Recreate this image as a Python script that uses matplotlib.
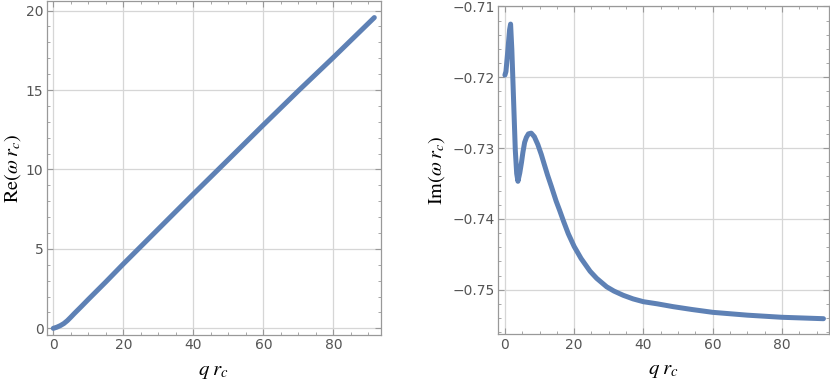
import numpy as np
import matplotlib
matplotlib.use('Agg')
import matplotlib.pyplot as plt
from matplotlib.ticker import MultipleLocator, FuncFormatter

plt.rcParams['mathtext.fontset'] = 'stix'

# Re(omega r_c) vs q r_c
qRe = [0, 1, 2, 3, 4, 5, 6, 8, 10, 15, 20, 30, 40, 50, 60, 70, 80, 91.7]
re = [0, 0.07, 0.17, 0.30, 0.48, 0.70, 0.93, 1.37, 1.82, 2.92, 4.05, 6.25,
      8.45, 10.62, 12.8, 14.95, 17.05, 19.56]

# Im(omega r_c) vs q r_c
qIm = [0, 0.3, 0.87, 1.35, 1.64, 2.0, 2.5, 3.0, 3.4, 3.76, 4.3, 4.8, 5.2,
       5.7, 6.2, 6.8, 7.6, 8.5, 9.5, 10.5, 11.3, 12.3, 13.4, 14.8, 15.8,
       16.9, 18.3, 20, 22, 24.6, 26.5, 29.4, 31.5, 34.2, 37, 40, 44, 48.6,
       54, 60, 70, 80, 92]
im = [-0.7197, -0.7192, -0.7161, -0.7133, -0.7125, -0.7161, -0.7232,
      -0.7303, -0.7336, -0.7347, -0.7335, -0.7320, -0.7306, -0.7292,
      -0.7285, -0.7280, -0.7279, -0.7284, -0.7295, -0.7309, -0.7322,
      -0.7338, -0.7354, -0.7375, -0.7388, -0.7403, -0.7421, -0.7439,
      -0.7456, -0.7474, -0.7484, -0.7496, -0.7502, -0.7508, -0.7513,
      -0.7517, -0.7520, -0.7524, -0.7528, -0.7532, -0.7536, -0.7539,
      -0.7541]

lineColor = '#5E81B5'
frameColor = '#999999'
gridColor = '#d6d6d6'
textColor = '#555555'


def styleAx(ax, xminor, yminor):
  for s in ax.spines.values():
    s.set_color(frameColor)
    s.set_linewidth(0.9)
  ax.grid(True, color=gridColor, linewidth=0.9)
  ax.set_axisbelow(True)
  ax.xaxis.set_major_locator(MultipleLocator(20))
  ax.xaxis.set_minor_locator(MultipleLocator(xminor))
  ax.yaxis.set_minor_locator(MultipleLocator(yminor))
  ax.tick_params(which='both', direction='in', top=True, right=True,
                 color=frameColor, labelcolor=textColor, labelsize=10, pad=2.5)
  ax.tick_params(which='major', length=4, width=0.8)
  ax.tick_params(which='minor', length=2.5, width=0.6)
  ax.set_xlabel(r'$q\;r_c$', fontsize=15, labelpad=6)


def minusFmt(v, p):
  return '\u2212%.2f' % abs(v) if v < 0 else '%.2f' % v


fig = plt.figure(figsize=(8.3, 3.83), dpi=100)

axRe = fig.add_axes([0.0566, 0.1253, 0.4024, 0.872])
axRe.plot(qRe, re, color=lineColor, linewidth=3.6, solid_capstyle='round',
          solid_joinstyle='round')
axRe.set_xlim(-1.8, 93.6)
axRe.set_ylim(-0.42, 20.6)
axRe.yaxis.set_major_locator(MultipleLocator(5))
styleAx(axRe, 5, 1)
axRe.set_ylabel(r'$\mathrm{Re}(\omega\;r_c)$', fontsize=14.5, labelpad=2)

axIm = fig.add_axes([0.6004, 0.1272, 0.3984, 0.858])
axIm.plot(qIm, im, color=lineColor, linewidth=3.6, solid_capstyle='round',
          solid_joinstyle='round')
axIm.set_xlim(-1.9, 93.6)
axIm.set_ylim(-0.7563, -0.7099)
axIm.yaxis.set_major_locator(MultipleLocator(0.01))
axIm.yaxis.set_major_formatter(FuncFormatter(minusFmt))
styleAx(axIm, 5, 0.002)
axIm.set_ylabel(r'$\mathrm{Im}(\omega\;r_c)$', fontsize=14.5, labelpad=4)

fig.savefig('out.png', dpi=100)
